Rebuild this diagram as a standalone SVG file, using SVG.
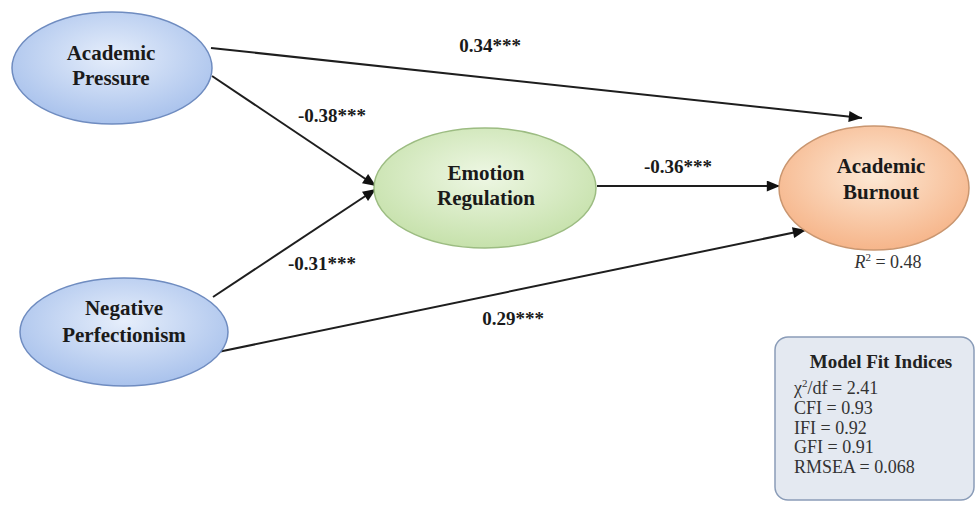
<svg xmlns="http://www.w3.org/2000/svg" width="978" height="508" viewBox="0 0 978 508">
<defs>
<radialGradient id="gBlue" cx="50%" cy="40%" r="60%">
<stop offset="0" stop-color="#e6eefb"/><stop offset="1" stop-color="#a9c2ec"/>
</radialGradient>
<radialGradient id="gGreen" cx="50%" cy="40%" r="60%">
<stop offset="0" stop-color="#eef7e4"/><stop offset="1" stop-color="#c6e1ab"/>
</radialGradient>
<radialGradient id="gOrange" cx="50%" cy="40%" r="60%">
<stop offset="0" stop-color="#fde8d4"/><stop offset="1" stop-color="#f6b58a"/>
</radialGradient>
<marker id="arrow" viewBox="0 0 12 10" refX="12" refY="5" markerWidth="14" markerHeight="11" markerUnits="userSpaceOnUse" orient="auto">
<path d="M0,0 L12,5 L0,10 Z" fill="#111"/>
</marker>
</defs>
<style>
.node-label{font-family:"Liberation Serif","Times New Roman",serif;font-weight:bold;font-size:21px;fill:#1a1a1a;text-anchor:middle}
.edge-label{font-family:"Liberation Serif","Times New Roman",serif;font-weight:bold;font-size:19px;fill:#1a1a1a;text-anchor:middle}
.edge{stroke:#1e1e1e;stroke-width:2;fill:none;marker-end:url(#arrow)}
.fit{font-family:"Liberation Serif","Times New Roman",serif;font-size:18px;fill:#333}
</style>
<rect width="978" height="508" fill="#ffffff"/>
<g id="connectors">
<line class="edge" x1="211" y1="48" x2="862" y2="118"/>
<line class="edge" x1="212" y1="76" x2="376" y2="186"/>
<line class="edge" x1="213" y1="297" x2="376" y2="189"/>
<line class="edge" x1="597" y1="186" x2="780" y2="186"/>
<line class="edge" x1="218" y1="352" x2="806" y2="230"/>
<text class="edge-label" x="490" y="52">0.34***</text>
<text class="edge-label" x="332" y="122">-0.38***</text>
<text class="edge-label" x="322" y="270">-0.31***</text>
<text class="edge-label" x="678" y="173">-0.36***</text>
<text class="edge-label" x="513" y="325">0.29***</text>
</g>
<g id="academic-pressure">
<ellipse cx="112" cy="68" rx="100" ry="56" fill="url(#gBlue)" stroke="#6f8cc0" stroke-width="1.5"/>
<text class="node-label" x="111" y="60">Academic</text>
<text class="node-label" x="111" y="85">Pressure</text>
</g>
<g id="negative-perfectionism">
<ellipse cx="124" cy="332" rx="104" ry="54" fill="url(#gBlue)" stroke="#6f8cc0" stroke-width="1.5"/>
<text class="node-label" x="124" y="315">Negative</text>
<text class="node-label" x="124" y="342">Perfectionism</text>
</g>
<g id="emotion-regulation">
<ellipse cx="485" cy="188" rx="111" ry="60" fill="url(#gGreen)" stroke="#9cbc82" stroke-width="1.5"/>
<text class="node-label" x="486" y="180">Emotion</text>
<text class="node-label" x="486" y="205">Regulation</text>
</g>
<g id="academic-burnout">
<ellipse cx="874" cy="188" rx="95" ry="62" fill="url(#gOrange)" stroke="#c99670" stroke-width="1.5"/>
<text class="node-label" x="881" y="173">Academic</text>
<text class="node-label" x="881" y="199">Burnout</text>
<text x="888" y="268" font-family="'Liberation Serif','Times New Roman',serif" font-size="18" fill="#333" text-anchor="middle"><tspan font-style="italic">R</tspan><tspan font-size="11" dy="-7">2</tspan><tspan dy="7"> = 0.48</tspan></text>
</g>
<g id="model-fit">
<rect x="775" y="337" width="199" height="163" rx="13" fill="#e4e9f1" stroke="#8a9cb8" stroke-width="1.5"/>
<text x="881" y="368" font-family="'Liberation Serif','Times New Roman',serif" font-weight="bold" font-size="19" fill="#222" text-anchor="middle">Model Fit Indices</text>
<text class="fit" x="794" y="394">χ<tspan font-size="11" dy="-7">2</tspan><tspan dy="7">/df = 2.41</tspan></text>
<text class="fit" x="794" y="414">CFI = 0.93</text>
<text class="fit" x="794" y="434">IFI = 0.92</text>
<text class="fit" x="794" y="453">GFI = 0.91</text>
<text class="fit" x="794" y="473">RMSEA = 0.068</text>
</g>
</svg>
